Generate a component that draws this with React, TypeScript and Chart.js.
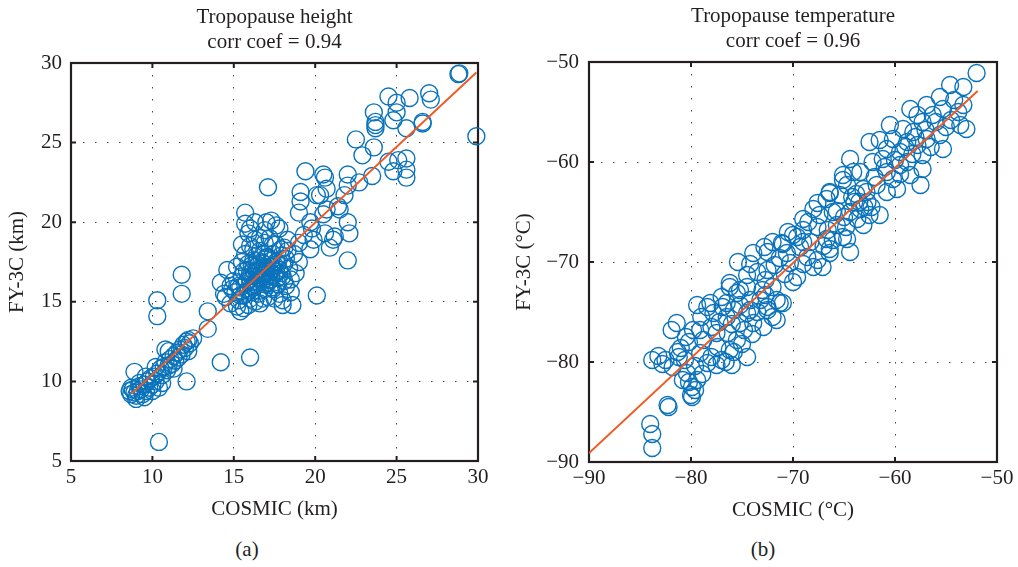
import React, { useEffect, useRef } from 'react';
import { Chart, registerables } from 'chart.js';

Chart.register(...registerables);

const FONT = "'Liberation Serif', 'Times New Roman', serif";
const TEXT = '#231f20';
const BLUE = '#0b73bb';
const ORANGE = '#f05a24';
const FONT_SIZE = 21;

// Panel (a) - tropopause height (km)
const heightTitle = ['Tropopause height', 'corr coef = 0.94'];
const heightTicks = [5, 10, 15, 20, 25, 30];
const heightFitX = [8.7, 29.9];
const heightFitY = [9.2, 29.4];
const heightPoints: [number, number][] = [
  [8.6, 9.4], [8.7, 9.2], [8.8, 9.5], [8.9, 9.3], [8.7, 9.6], [9.0, 9.1], [9.1, 9.4], [9.0, 8.9],
  [9.2, 9.7], [9.3, 9.5], [8.9, 10.6], [9.4, 9.2], [9.5, 9.8], [9.6, 9.4], [9.7, 10.0], [9.8, 9.6],
  [9.9, 10.2], [10.0, 9.8], [10.1, 10.3], [10.2, 10.0], [10.3, 10.5], [10.4, 9.6], [10.5, 10.8],
  [10.6, 10.4], [10.7, 10.9], [10.8, 11.2], [10.9, 10.7], [11.0, 11.0], [11.1, 11.4], [11.2, 11.1],
  [11.3, 11.6], [11.4, 11.3], [11.5, 11.8], [11.6, 11.5], [11.7, 12.0], [11.8, 11.7], [11.9, 12.3],
  [12.0, 12.1], [12.1, 12.5], [12.2, 11.9], [12.3, 12.4], [12.5, 12.7], [12.2, 12.6], [10.8, 12.0],
  [11.0, 11.9], [11.8, 15.5], [11.8, 16.7], [10.3, 15.1], [10.3, 14.1], [12.1, 10.0], [10.4, 6.2],
  [9.2, 9.9], [10.2, 10.9], [9.6, 10.3], [10.6, 9.9], [11.3, 10.8], [9.5, 9.0], [10.0, 9.4],
  [13.4, 14.4], [13.4, 13.3], [14.2, 11.2], [16.0, 11.5], [14.2, 16.2], [14.5, 15.3], [14.6, 17.0],
  [15.2, 14.7], [15.6, 14.6], [14.8, 14.9], [14.4, 15.5], [14.9, 15.8], [15.0, 16.3], [15.3, 15.1],
  [15.4, 15.9], [15.5, 16.6], [15.6, 15.4], [15.7, 16.1], [15.8, 17.0], [15.9, 15.7], [16.0, 16.4],
  [16.1, 17.3], [16.2, 15.9], [16.3, 16.8], [16.4, 17.6], [16.5, 16.2], [16.6, 17.0], [16.7, 16.5],
  [16.8, 17.4], [16.9, 15.8], [17.0, 16.9], [17.1, 17.8], [17.2, 16.4], [17.3, 17.2], [17.4, 18.0],
  [17.5, 16.7], [17.6, 17.5], [17.7, 16.1], [17.8, 17.0], [17.9, 17.9], [18.0, 16.6], [18.1, 17.4],
  [18.2, 16.0], [18.3, 18.2], [18.4, 17.1], [18.5, 16.4], [16.0, 18.5], [16.3, 18.9], [16.6, 18.2],
  [16.9, 18.7], [17.2, 19.0], [17.6, 18.6], [15.7, 18.0], [15.5, 17.5], [15.2, 17.2], [16.1, 16.0],
  [16.4, 16.3], [16.7, 16.8], [17.0, 17.1], [17.3, 16.6], [16.5, 17.3], [16.2, 17.6], [17.4, 15.8],
  [17.8, 15.5], [18.0, 15.1], [16.8, 15.2], [16.3, 15.0], [15.9, 14.8], [15.4, 14.4], [16.6, 14.9],
  [17.5, 15.2], [18.0, 14.8], [18.6, 14.8], [18.5, 15.6], [18.8, 16.8], [19.0, 17.5], [18.7, 18.0],
  [16.2, 16.6], [16.4, 16.9], [16.6, 16.4], [16.8, 16.7], [17.0, 16.5], [17.2, 16.9], [17.4, 17.1],
  [16.9, 17.2], [16.5, 17.0], [17.1, 16.2], [16.7, 17.5], [17.3, 17.6], [17.5, 17.3], [17.7, 17.4],
  [16.3, 16.1], [16.0, 16.8], [15.8, 16.3], [16.1, 15.6], [16.6, 15.7], [17.6, 16.9], [17.9, 16.8],
  [18.1, 16.3], [17.0, 17.8], [16.8, 18.0], [16.4, 17.9], [15.9, 17.4], [15.6, 16.9], [15.3, 16.0],
  [15.1, 15.6], [16.9, 16.1], [17.3, 15.9], [17.7, 16.5], [18.2, 17.7], [17.9, 18.3], [16.2, 18.3],
  [15.5, 18.6], [16.6, 19.0], [17.4, 18.6], [14.8, 16.0], [15.4, 15.4], [16.0, 15.2], [16.5, 15.5],
  [17.1, 15.3],
  [15.7, 20.6], [15.7, 19.9], [17.3, 20.1], [15.9, 19.3], [16.9, 19.5], [18.3, 18.9], [17.1, 22.2],
  [16.3, 20.0], [17.8, 19.6], [18.1, 18.4], [16.0, 19.6], [17.0, 20.0], [17.6, 19.8],
  [19.4, 23.2], [20.5, 23.0], [19.1, 21.9], [19.1, 21.3], [19.0, 20.6], [20.1, 21.7], [21.5, 20.8],
  [20.5, 20.5], [19.7, 20.0], [21.1, 18.9], [20.9, 18.4], [19.9, 18.9], [19.7, 18.3], [22.0, 17.6],
  [20.1, 15.4], [19.3, 19.2], [20.6, 22.8], [20.7, 22.1], [20.3, 21.7], [21.4, 21.0], [20.7, 20.8],
  [22.0, 20.0], [22.1, 19.3], [21.2, 19.1], [20.6, 19.3], [22.0, 23.0], [22.0, 22.3], [21.8, 21.7],
  [22.7, 22.5], [23.5, 22.9], [22.5, 25.2], [22.9, 24.2], [23.6, 24.7], [24.5, 23.8], [25.1, 23.9],
  [25.6, 24.0], [24.8, 23.2], [25.6, 23.3], [25.6, 22.8], [23.6, 26.9], [25.0, 26.9], [23.7, 26.3],
  [23.7, 25.9], [24.8, 26.4], [25.6, 25.9], [26.6, 26.2], [26.6, 26.3], [24.5, 27.9], [25.8, 27.8],
  [27.0, 28.1], [27.1, 27.7], [25.0, 27.5], [23.7, 26.1], [28.8, 29.3], [28.85, 29.35], [29.9, 25.4],
  [19.8, 19.6], [19.0, 18.7],
];

// Panel (b) - tropopause temperature (°C)
const tempTitle = ['Tropopause temperature', 'corr coef = 0.96'];
const tempTicks = [-90, -80, -70, -60, -50];
const tempFitX = [-90, -51.9];
const tempFitY = [-89.1, -52.9];
const tempPoints: [number, number][] = [
  [-84.0, -86.2], [-83.8, -87.2], [-83.8, -88.6], [-82.3, -84.3], [-82.2, -84.5], [-83.8, -79.8],
  [-83.2, -79.4], [-82.5, -79.8], [-81.9, -76.8], [-81.4, -76.1], [-81.3, -79.0], [-80.6, -79.8],
  [-80.8, -81.8], [-79.9, -82.5], [-79.4, -81.8], [-79.9, -83.5], [-80.0, -83.3], [-80.4, -81.1],
  [-79.4, -74.3], [-79.8, -76.8], [-79.1, -76.8], [-78.8, -77.8], [-79.1, -79.1], [-78.4, -74.5],
  [-77.8, -75.1], [-78.4, -80.1], [-77.5, -80.3], [-77.4, -78.5], [-77.5, -77.1], [-76.9, -74.5],
  [-76.5, -75.5], [-76.4, -77.1], [-76.2, -78.8], [-76.0, -80.3], [-75.5, -73.1], [-74.5, -72.5],
  [-75.2, -74.3], [-75.2, -76.1], [-74.5, -75.1], [-74.5, -79.5], [-75.5, -77.8], [-73.9, -76.1],
  [-72.9, -76.5], [-72.5, -74.5], [-72.0, -75.5], [-71.0, -74.1], [-71.6, -73.8], [-72.7, -73.3],
  [-76.2, -72.5], [-82.8, -80.2], [-81.8, -80.5], [-81.0, -78.6], [-80.2, -78.0], [-79.6, -80.4],
  [-78.9, -81.2], [-78.0, -79.5], [-77.0, -79.8], [-76.6, -80.0], [-75.8, -79.0], [-75.0, -78.2],
  [-74.0, -77.2], [-73.5, -75.0], [-74.8, -76.8], [-76.0, -76.2], [-77.2, -76.0], [-78.0, -76.5],
  [-77.0, -73.5], [-75.8, -74.8], [-74.2, -73.8], [-73.0, -72.8], [-80.5, -77.5], [-79.0, -75.5],
  [-81.2, -79.5], [-80.2, -82.0], [-79.6, -82.8],
  [-75.4, -70.0], [-74.2, -70.2], [-73.9, -69.1], [-72.5, -70.8], [-72.7, -71.8], [-71.1, -68.1],
  [-70.6, -69.1], [-71.3, -69.6], [-70.3, -70.1], [-69.6, -67.5], [-69.3, -68.5], [-69.6, -71.5],
  [-68.6, -69.5], [-68.0, -70.5], [-67.6, -69.8], [-67.1, -70.5], [-66.4, -69.1], [-66.1, -67.8],
  [-66.6, -66.8], [-65.1, -67.5], [-67.6, -66.5], [-69.0, -66.8], [-67.6, -64.1], [-66.4, -63.1],
  [-65.7, -64.9], [-65.1, -61.8], [-78.1, -74.1], [-76.5, -74.1], [-76.2, -72.1], [-75.2, -72.8],
  [-73.2, -73.8], [-74.2, -74.8], [-72.5, -74.8], [-71.3, -74.1], [-71.6, -75.8], [-73.5, -71.0],
  [-72.0, -72.5], [-70.8, -71.2], [-71.8, -70.3], [-70.0, -72.0], [-69.0, -70.2], [-68.3, -68.0],
  [-67.0, -68.4], [-70.5, -67.0], [-68.5, -66.0], [-72.8, -68.5], [-74.5, -71.3],
  [-52.0, -51.1], [-53.3, -52.5], [-54.6, -52.3], [-55.6, -53.5], [-53.3, -54.3], [-53.0, -56.7],
  [-53.6, -56.3], [-55.3, -54.7], [-56.9, -54.3], [-56.3, -55.3], [-57.3, -56.0], [-58.5, -54.7],
  [-57.8, -55.3], [-55.6, -57.3], [-55.3, -58.7], [-56.9, -57.7], [-58.2, -57.0], [-59.2, -56.7],
  [-60.5, -56.3], [-60.2, -57.7], [-58.8, -58.0], [-57.8, -58.3], [-57.3, -59.3], [-59.5, -59.0],
  [-60.8, -58.7], [-62.5, -58.0], [-61.2, -59.7], [-58.8, -60.0], [-57.3, -60.7], [-57.5, -62.3],
  [-58.5, -61.3], [-59.5, -60.3], [-60.2, -61.7], [-60.8, -61.0], [-62.2, -60.0], [-63.4, -61.0],
  [-64.4, -59.7], [-64.1, -61.0], [-65.1, -61.3], [-64.7, -62.3], [-63.1, -62.7], [-61.8, -62.3],
  [-60.8, -63.0], [-59.8, -62.7], [-62.7, -64.0], [-63.4, -64.7], [-62.5, -65.3], [-63.1, -66.3],
  [-61.5, -65.3], [-63.7, -65.7], [-64.4, -65.0], [-65.4, -63.3], [-66.4, -63.0], [-66.7, -63.7],
  [-68.0, -64.7], [-67.4, -65.3], [-66.1, -65.0], [-65.7, -66.3], [-69.0, -65.7], [-64.7, -67.7],
  [-64.4, -69.0], [-70.0, -67.3], [-69.0, -68.0], [-72.0, -68.0], [-71.0, -68.2], [-72.5, -69.0],
  [-66.7, -67.7], [-66.4, -68.7], [-56.0, -56.0], [-54.5, -55.8], [-55.0, -56.5], [-58.0, -57.5],
  [-59.0, -58.5], [-61.5, -57.8], [-62.0, -61.5], [-63.8, -63.2], [-64.0, -64.0], [-62.8, -63.0],
  [-61.0, -60.5], [-60.0, -59.8], [-59.5, -61.2], [-58.3, -59.2], [-56.5, -58.5], [-54.2, -53.8],
  [-53.8, -55.0], [-57.0, -56.8], [-63.5, -64.0], [-64.2, -63.5], [-63.0, -64.5], [-65.0, -65.5],
  [-62.3, -64.5], [-64.8, -66.5],
];

const fmt = (v: number) => String(v).replace('-', '\u2212');

const framePlugin = {
  id: 'frame',
  beforeDatasetsDraw(chart: any) {
    const { ctx, chartArea: a, scales } = chart;
    const xs = scales.x;
    const ys = scales.y;
    ctx.save();
    ctx.strokeStyle = TEXT;
    ctx.lineWidth = 2;
    ctx.beginPath();
    xs.ticks.forEach((t: any) => {
      const px = xs.getPixelForValue(t.value);
      ctx.moveTo(px, a.bottom);
      ctx.lineTo(px, a.bottom - 5);
      ctx.moveTo(px, a.top);
      ctx.lineTo(px, a.top + 5);
    });
    ys.ticks.forEach((t: any) => {
      const py = ys.getPixelForValue(t.value);
      ctx.moveTo(a.left, py);
      ctx.lineTo(a.left + 5, py);
      ctx.moveTo(a.right, py);
      ctx.lineTo(a.right - 5, py);
    });
    ctx.stroke();
    ctx.lineWidth = 2.2;
    ctx.strokeRect(a.left, a.top, a.right - a.left, a.bottom - a.top);
    ctx.restore();
  },
};

type PanelProps = {
  left: number;
  title: string[];
  points: [number, number][];
  fitX: number[];
  fitY: number[];
  ticks: number[];
  xLabel: string;
  yLabel: string;
  yAxisWidth: number;
  rightPad: number;
  titlePadTop: number;
  titlePadBottom: number;
  xAxisHeight: number;
  yTitlePad: number;
  xTitlePad: number;
  yTickPad: number;
};

function Panel(p: PanelProps) {
  const ref = useRef<HTMLCanvasElement>(null);
  useEffect(() => {
    const font = { family: FONT, size: FONT_SIZE };
    const min = p.ticks[0];
    const max = p.ticks[p.ticks.length - 1];
    const step = p.ticks[1] - p.ticks[0];
    const chart = new Chart(ref.current as HTMLCanvasElement, {
      type: 'scatter',
      data: {
        datasets: [
          {
            type: 'line',
            data: p.fitX.map((x, i) => ({ x, y: p.fitY[i] })),
            borderColor: ORANGE,
            borderWidth: 2,
            pointRadius: 0,
            showLine: true,
            fill: false,
            order: 0,
          } as any,
          {
            data: p.points.map(([x, y]) => ({ x, y })),
            pointRadius: 8.5,
            pointBorderWidth: 1.4,
            borderColor: BLUE,
            backgroundColor: 'rgba(0,0,0,0)',
            pointBackgroundColor: 'rgba(0,0,0,0)',
            clip: false,
            order: 1,
          } as any,
        ],
      },
      options: {
        animation: false,
        responsive: false,
        layout: { padding: { left: 0, right: p.rightPad, top: 0, bottom: 0 } },
        plugins: {
          legend: { display: false },
          tooltip: { enabled: false },
          title: {
            display: true,
            text: p.title,
            fullSize: false,
            color: TEXT,
            font: { family: FONT, size: FONT_SIZE, weight: 'normal', lineHeight: '25px' } as any,
            padding: { top: p.titlePadTop, bottom: p.titlePadBottom },
          },
        },
        scales: {
          x: {
            type: 'linear',
            min,
            max,
            ticks: {
              stepSize: step,
              font,
              color: TEXT,
              padding: 4,
              maxRotation: 0,
              callback: (v: any) => fmt(Number(v)),
            },
            grid: { color: '#444', lineWidth: 1, drawTicks: false },
            border: { display: false, dash: [1.5, 10.5] },
            title: {
              display: true,
              text: p.xLabel,
              font,
              color: TEXT,
              padding: { top: 0, bottom: p.xTitlePad },
            },
            afterFit: (s: any) => {
              s.height = p.xAxisHeight;
            },
          },
          y: {
            type: 'linear',
            min,
            max,
            ticks: {
              stepSize: step,
              font,
              color: TEXT,
              padding: p.yTickPad,
              callback: (v: any) => fmt(Number(v)),
            },
            grid: { color: '#444', lineWidth: 1, drawTicks: false },
            border: { display: false, dash: [1.5, 10.5] },
            title: {
              display: true,
              text: p.yLabel,
              font,
              color: TEXT,
              padding: { top: p.yTitlePad, bottom: 0 },
            },
            afterFit: (s: any) => {
              s.width = p.yAxisWidth;
            },
          },
        },
      } as any,
      plugins: [framePlugin],
    });
    return () => chart.destroy();
  }, []);
  return (
    <canvas
      ref={ref}
      width={509}
      height={530}
      style={{ position: 'absolute', left: p.left, top: 0, width: 509, height: 530 }}
    />
  );
}

const captionStyle: React.CSSProperties = {
  position: 'absolute',
  top: 536,
  width: 60,
  textAlign: 'center',
  fontFamily: FONT,
  fontSize: FONT_SIZE,
  lineHeight: '26px',
  color: TEXT,
};

export default function App() {
  return (
    <div style={{ position: 'absolute', left: 0, top: 0, width: 1018, height: 567, background: '#fff', overflow: 'hidden' }}>
      <Panel
        left={0}
        title={heightTitle}
        points={heightPoints}
        fitX={heightFitX}
        fitY={heightFitY}
        ticks={heightTicks}
        xLabel="COSMIC (km)"
        yLabel="FY-3C (km)"
        yAxisWidth={71}
        rightPad={31}
        titlePadTop={5}
        titlePadBottom={8}
        xAxisHeight={69}
        yTitlePad={5}
        xTitlePad={8}
        yTickPad={9}
      />
      <Panel
        left={509}
        title={tempTitle}
        points={tempPoints}
        fitX={tempFitX}
        fitY={tempFitY}
        ticks={tempTicks}
        xLabel="COSMIC (°C)"
        yLabel="FY-3C (°C)"
        yAxisWidth={80}
        rightPad={21}
        titlePadTop={4}
        titlePadBottom={8}
        xAxisHeight={68}
        yTitlePad={3}
        xTitlePad={7}
        yTickPad={10}
      />
      <div style={{ ...captionStyle, left: 217 }}>(a)</div>
      <div style={{ ...captionStyle, left: 733 }}>(b)</div>
    </div>
  );
}
